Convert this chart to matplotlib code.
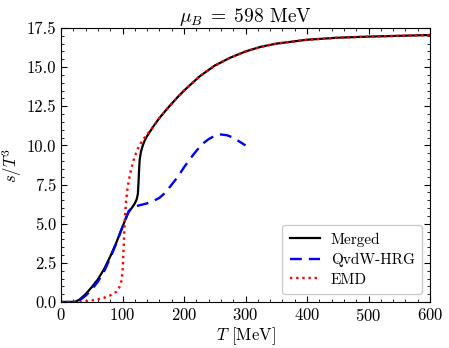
import matplotlib
matplotlib.use("Agg")
import matplotlib.pyplot as plt
from matplotlib.ticker import MultipleLocator

plt.rcParams["font.family"] = "serif"
plt.rcParams["font.serif"] = ["cmr10", "DejaVu Serif"]
plt.rcParams["mathtext.fontset"] = "cm"
plt.rcParams["axes.formatter.use_mathtext"] = True

# --- data ---
T_merged = [0, 10, 20, 25, 30, 40, 50, 60, 70, 80, 90, 100, 105, 110, 115, 120, 123,
            125, 126, 127, 128, 130, 133, 136, 140, 150, 160, 175, 190, 200, 225,
            250, 275, 300, 325, 350, 400, 450, 500, 550, 600]
s_merged = [0.0, 0.0, 0.0, 0.05, 0.15, 0.5, 0.95, 1.45, 2.1, 2.9, 3.8, 4.8, 5.3, 5.75,
            6.0, 6.3, 6.55, 6.9, 7.6, 8.5, 9.1, 9.6, 10.0, 10.3, 10.6, 11.2, 11.75,
            12.45, 13.1, 13.5, 14.4, 15.1, 15.6, 16.0, 16.3, 16.5, 16.75, 16.88,
            16.95, 17.0, 17.05]

T_qvdw = [0, 10, 20, 25, 30, 40, 50, 60, 70, 80, 90, 100, 105, 110, 115, 120, 130,
          140, 150, 160, 170, 180, 190, 200, 210, 220, 230, 240, 250, 260, 270,
          280, 290, 300]
s_qvdw = [0.0, 0.0, 0.0, 0.03, 0.1, 0.4, 0.8, 1.3, 1.95, 2.8, 3.75, 4.8, 5.3, 5.8,
          6.0, 6.1, 6.2, 6.3, 6.45, 6.65, 7.0, 7.5, 8.0, 8.6, 9.15, 9.65, 10.1,
          10.4, 10.62, 10.7, 10.65, 10.5, 10.25, 10.0]

T_emd = [0, 20, 30, 40, 50, 60, 70, 80, 90, 95, 98, 100, 101, 102, 103, 104, 105,
         106, 108, 110, 113, 117, 120, 125, 130, 135, 140, 150, 160, 175, 190,
         200, 225, 250, 275, 300, 325, 350, 400, 450, 500, 550, 600]
s_emd = [0.0, 0.0, 0.0, 0.05, 0.1, 0.17, 0.27, 0.42, 0.65, 0.95, 1.3, 1.9, 2.7,
         3.6, 4.6, 5.4, 6.0, 6.5, 7.2, 7.7, 8.3, 8.9, 9.3, 9.8, 10.15, 10.45,
         10.7, 11.2, 11.75, 12.45, 13.1, 13.5, 14.4, 15.1, 15.6, 16.0, 16.3,
         16.5, 16.75, 16.88, 16.95, 17.0, 17.05]

fig = plt.figure(figsize=(4.49, 3.48), dpi=100)
ax = fig.add_axes([61 / 449, 46 / 348, 369 / 449, 274 / 348])

ax.plot(T_merged, s_merged, color="black", lw=1.6, label="Merged")
ax.plot(T_qvdw, s_qvdw, color="blue", lw=1.7, ls=(0, (5, 3)), label="QvdW-HRG")
ax.plot(T_emd, s_emd, color="red", lw=1.7, ls=(0, (1, 1.6)), label="EMD")

ax.set_xlim(0, 600)
ax.set_ylim(0, 17.5)
ax.xaxis.set_major_locator(MultipleLocator(100))
ax.xaxis.set_minor_locator(MultipleLocator(20))
ax.yaxis.set_major_locator(MultipleLocator(2.5))
ax.yaxis.set_minor_locator(MultipleLocator(0.5))
ax.yaxis.set_major_formatter(plt.FormatStrFormatter("%.1f"))
ax.tick_params(which="both", direction="in", top=True, right=True, labelsize=12)
ax.tick_params(which="major", length=4)
ax.tick_params(which="minor", length=2)

ax.set_xlabel(r"$T$ [MeV]", fontsize=12, labelpad=1)
ax.set_ylabel(r"$s/T^3$", fontsize=12, labelpad=2)
ax.set_title(r"$\mu_B\;=\;598$ MeV", fontsize=14, pad=4)

ax.legend(loc="lower right", fontsize=11, handlelength=2.0, handletextpad=0.7,
          borderpad=0.5, labelspacing=0.4, framealpha=1.0)

fig.savefig("out.png", dpi=100)
